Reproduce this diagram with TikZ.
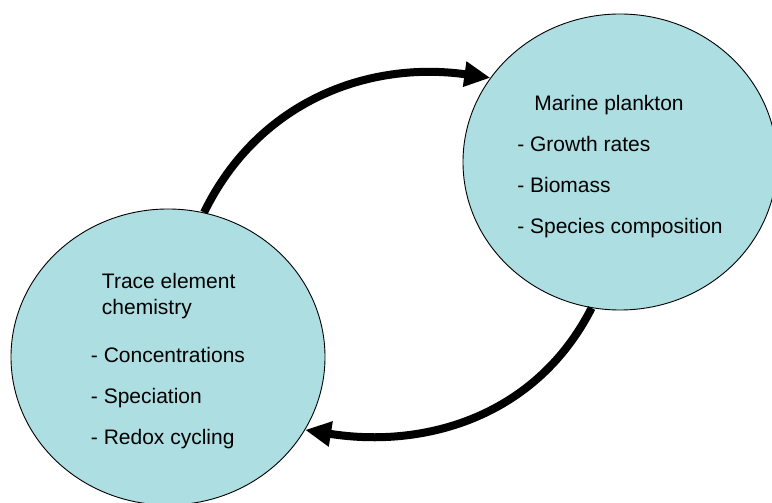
\documentclass[tikz,border=0pt]{standalone}
\usepackage{fontspec}
\setmainfont{Liberation Sans}
\usetikzlibrary{shapes.geometric,arrows.meta}
\definecolor{acqua}{RGB}{173,222,226}
\begin{document}
\begin{tikzpicture}[x=1pt, y=1pt,
        cerchio/.style={ellipse, draw, line width=0.9pt, fill=acqua, minimum width=314pt, minimum height=296pt, align=left, font=\fontsize{21}{26}\selectfont},
        freccia/.style={line width=8pt, -{Triangle[length=26pt,width=24pt]}}]
        \useasboundingbox (0,0) rectangle (772,503);
        
        % Cerchi con le liste
        \node[cerchio] (chem) at (168,146) {\rule{0pt}{24pt}\hspace*{11pt}Trace element\\\hspace*{11pt}chemistry\\[22pt]- Concentrations\\[15pt]- Speciation\\[15pt]- Redox cycling};
        \node[cerchio] (plank) at (620,341) {\rule{0pt}{24pt}\hspace*{17pt}Marine plankton\\[15pt]- Growth rates\\[15pt]- Biomass\\[15pt]- Species composition};
        
        % Frecce curve tra i due cerchi
        \draw[freccia] (chem.76) to[out=64, in=172] (plank.147);
        \draw[freccia] (plank.259) to[out=243, in=351] (chem.332);
    \end{tikzpicture}
\end{document}
